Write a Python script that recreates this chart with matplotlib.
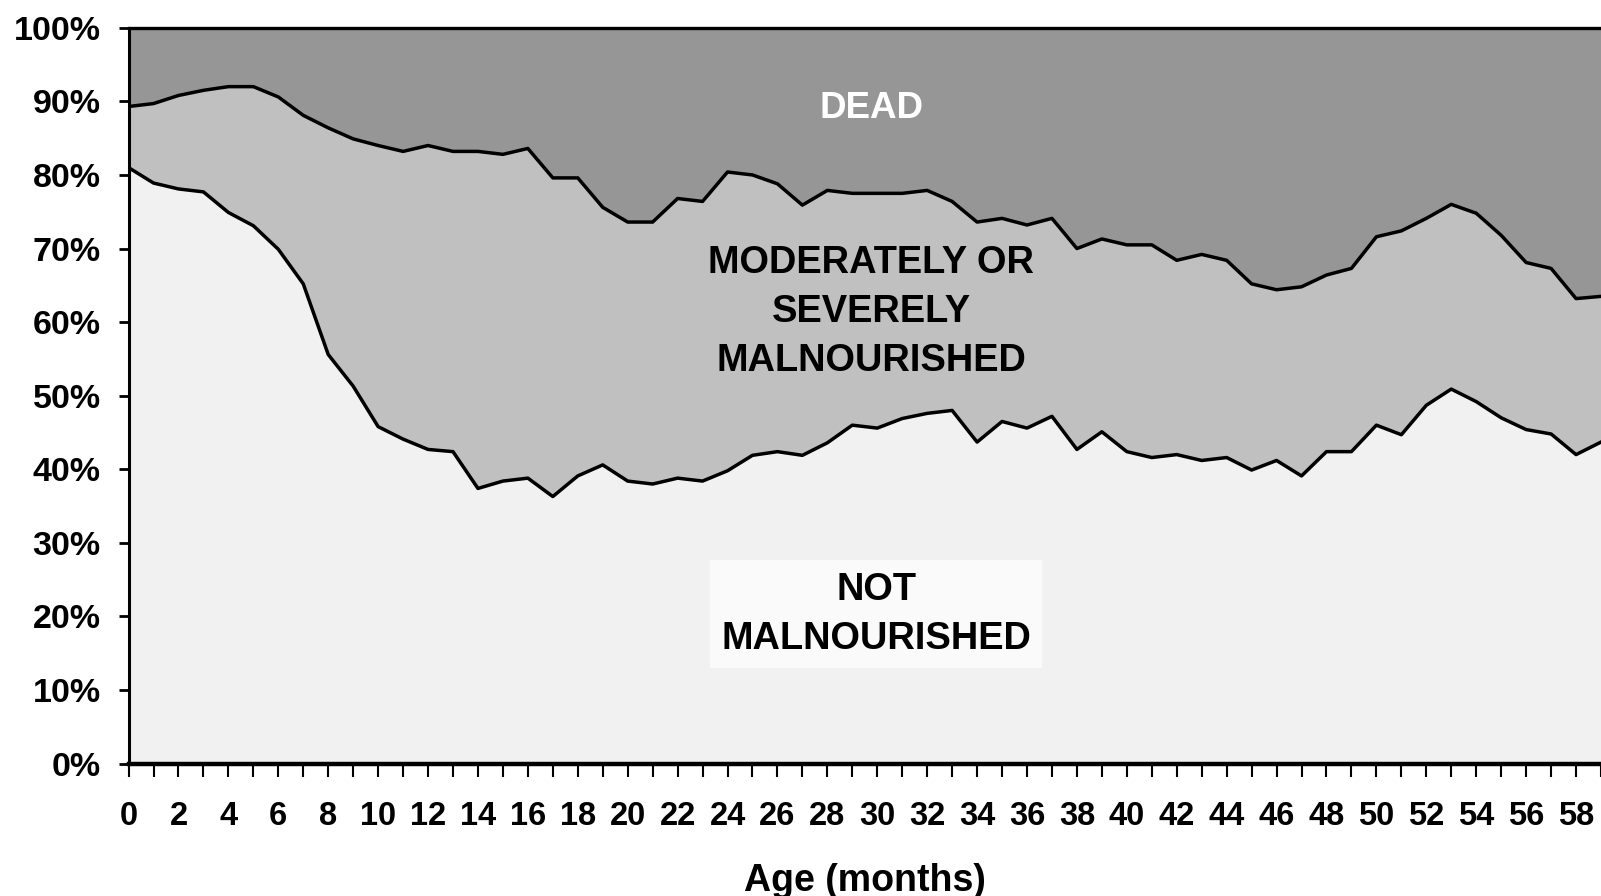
import numpy as np
import matplotlib.pyplot as plt

plt.rcParams['font.family'] = ['Liberation Sans', 'DejaVu Sans']
plt.rcParams['font.weight'] = 'bold'

# age in months
months = np.arange(0, 60)

# % not malnourished (bottom band)
not_maln = [81.0, 78.9, 78.1, 77.7, 74.9, 73.1, 69.9, 65.2, 55.6, 51.3,
            45.8, 44.1, 42.7, 42.4, 37.4, 38.4, 38.8, 36.3, 39.1, 40.6,
            38.4, 38.0, 38.8, 38.4, 39.8, 41.9, 42.4, 41.9, 43.6, 46.0,
            45.6, 46.9, 47.6, 48.0, 43.7, 46.5, 45.6, 47.2, 42.7, 45.1,
            42.4, 41.6, 42.0, 41.2, 41.6, 39.9, 41.2, 39.1, 42.4, 42.4,
            46.0, 44.7, 48.7, 50.9, 49.2, 47.0, 45.4, 44.8, 42.0, 43.7]

# cumulative % alive (not + moderately/severely malnourished)
alive = [89.3, 89.7, 90.8, 91.5, 92.0, 92.0, 90.6, 88.1, 86.4, 84.9,
         84.0, 83.2, 84.0, 83.2, 83.2, 82.8, 83.6, 79.6, 79.6, 75.6,
         73.6, 73.6, 76.8, 76.4, 80.4, 80.0, 78.8, 75.9, 77.9, 77.5,
         77.5, 77.5, 77.9, 76.4, 73.6, 74.1, 73.2, 74.1, 70.0, 71.3,
         70.5, 70.5, 68.4, 69.2, 68.4, 65.2, 64.4, 64.8, 66.4, 67.3,
         71.6, 72.4, 74.1, 76.0, 74.8, 71.8, 68.1, 67.3, 63.2, 63.5]

not_maln = np.array(not_maln)
alive = np.array(alive)

fig = plt.figure(figsize=(16.01, 8.96), dpi=100)
ax = fig.add_axes([0.0803, 0.1477, 1 - 0.0803, 0.969 - 0.1477])

ax.fill_between(months, 0, not_maln, facecolor='#f1f1f1', linewidth=0)
ax.fill_between(months, not_maln, alive, facecolor='#c0c0c0', linewidth=0)
ax.fill_between(months, alive, 100, facecolor='#969696', linewidth=0)
ax.plot(months, not_maln, color='black', lw=2.5)
ax.plot(months, alive, color='black', lw=2.5)

ax.set_xlim(0, 58.55)
ax.set_ylim(0, 100)

ax.set_yticks(np.arange(0, 101, 10))
ax.set_yticklabels(['%d%%' % v for v in range(0, 101, 10)])
ax.set_xticks(np.arange(0, 59, 2))
ax.set_xticks(np.arange(0, 60, 1), minor=True)

ax.tick_params(axis='y', direction='out', length=7, width=2, labelsize=24.5, pad=13)
ax.tick_params(axis='x', which='both', direction='out', length=9, width=1.5,
               labelsize=23.5, pad=18)

ax.spines['right'].set_visible(False)
ax.spines['top'].set_linewidth(2.4)
ax.spines['left'].set_linewidth(2.2)
ax.spines['bottom'].set_linewidth(3.2)

ax.set_xlabel('Age (months)', fontsize=27, fontweight='bold', labelpad=22)

ax.text(29.75, 89.0, 'DEAD', color='white', fontsize=26.5, fontweight='bold',
        ha='center', va='center')
ax.text(29.75, 61.4, 'MODERATELY OR\nSEVERELY\nMALNOURISHED', color='black',
        fontsize=27.4, fontweight='bold', ha='center', va='center', linespacing=1.47)
ax.text(29.95, 20.3, 'NOT\nMALNOURISHED', color='black', fontsize=27.4,
        fontweight='bold', ha='center', va='center', linespacing=1.47,
        bbox=dict(boxstyle='square,pad=0.3', facecolor='#fafafa', edgecolor='none'))

fig.savefig('out.png', dpi=100)
